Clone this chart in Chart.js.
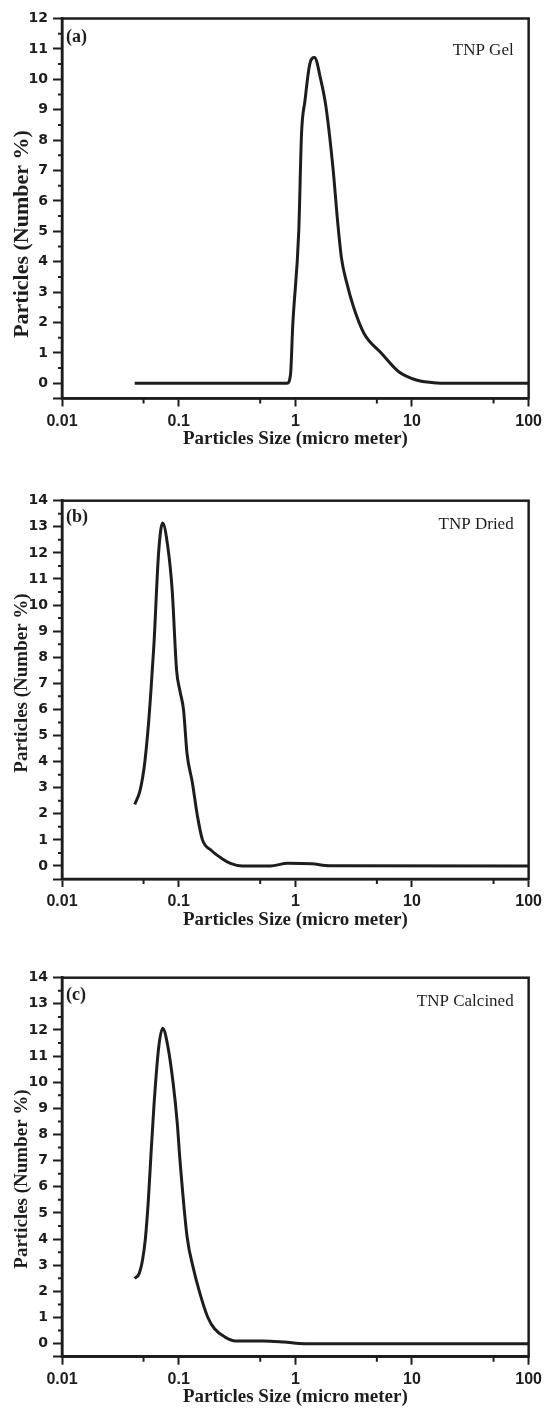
<!DOCTYPE html>
<html>
<head>
<meta charset="utf-8">
<script src="https://cdn.jsdelivr.net/npm/chart.js@4.4.0/dist/chart.umd.min.js"></script>
<style>
body{margin:0;background:#fff;width:547px;height:1408px;position:relative;overflow:hidden}
.panel{position:absolute;left:0;width:547px}
</style>
</head>
<body>
<div class="panel" style="top:0;height:450px"><canvas id="chartA"></canvas></div>
<div class="panel" style="top:470px;height:461px"><canvas id="chartB"></canvas></div>
<div class="panel" style="top:950px;height:458px"><canvas id="chartC"></canvas></div>
<script>
// ------------------------------- DATA (size in micro meter, number %)

const gelSize   = [0.042, 0.85, 0.91, 0.95, 1.07, 1.13, 1.21, 1.33, 1.46, 1.65, 1.83, 2.10, 2.32, 2.49, 2.76, 3.16, 3.88, 5.47, 7.7, 10.9, 15.3, 21.5, 100]
const gelNumber = [0, 0, 0.3, 1.9, 5.0, 8.2, 9.3, 10.5, 10.72, 10.0, 9.1, 7.1, 5.2, 4.1, 3.3, 2.5, 1.64, 0.99, 0.38, 0.11, 0.02, 0, 0]

const driedSize   = [0.042, 0.0467, 0.051, 0.0555, 0.0574, 0.0614, 0.0673, 0.0729, 0.0809, 0.0879, 0.096, 0.1027, 0.110, 0.118, 0.131, 0.145, 0.160, 0.190, 0.234, 0.278, 0.353, 0.61, 0.86, 1.39, 1.96, 100]
const driedNumber = [2.36, 2.9, 3.9, 5.6, 6.5, 8.5, 12.0, 13.15, 12.2, 10.6, 7.5, 6.7, 6.0, 4.3, 3.2, 1.9, 1.0, 0.6, 0.29, 0.1, 0, 0, 0.1, 0.08, 0.01, 0]

const calcSize   = [0.042, 0.0458, 0.049, 0.0518, 0.055, 0.0575, 0.0614, 0.0673, 0.0729, 0.0809, 0.0897, 0.0973, 0.1027, 0.118, 0.135, 0.155, 0.178, 0.203, 0.250, 0.307, 0.53, 0.80, 1.2, 100]
const calcNumber = [2.49, 2.68, 3.2, 4.0, 5.5, 7.0, 9.1, 11.3, 12.07, 11.36, 9.96, 8.43, 7.0, 4.1, 2.8, 1.8, 1.0, 0.57, 0.25, 0.10, 0.10, 0.06, 0, 0]

const xTicks = [0.01, 0.1, 1, 10, 100]
const xTickLabels = ['0.01', '0.1', '1', '10', '100']
const xMinor = [0.05, 0.5, 5, 50]

const yTicksGel = [0, 1, 2, 3, 4, 5, 6, 7, 8, 9, 10, 11, 12]
const yMinorGel = [0.5, 1.5, 2.5, 3.5, 4.5, 5.5, 6.5, 7.5, 8.5, 9.5, 10.5, 11.5]
const yTicksOther = [0, 1, 2, 3, 4, 5, 6, 7, 8, 9, 10, 11, 12, 13, 14]
const yMinorOther = [0.5, 1.5, 2.5, 3.5, 4.5, 5.5, 6.5, 7.5, 8.5, 9.5, 10.5, 11.5, 12.5, 13.5]

// ------------------------------- GLOBALS

const ink = '#1f1c1d'
const yTitle = 'Particles (Number %)'
const xTitle = 'Particles Size (micro meter)'

// frame box, small ticks and the text inside the panel
const frame = {
    id: 'frame',
    afterDraw(chart, args, o) {
        const ctx = chart.ctx
        const a = chart.chartArea
        const x = chart.scales.x
        const y = chart.scales.y
        ctx.save()
        ctx.strokeStyle = ink
        ctx.lineWidth = 2.5
        ctx.strokeRect(a.left, a.top, a.right - a.left, a.bottom - a.top)

        ctx.lineWidth = 2
        ctx.beginPath()
        xMinor.forEach(v => {
            let px = x.getPixelForValue(v)
            ctx.moveTo(px, a.bottom)
            ctx.lineTo(px, a.bottom + 5)
        })
        o.yMinor.forEach(v => {
            let py = y.getPixelForValue(v)
            ctx.moveTo(a.left, py)
            ctx.lineTo(a.left - 4, py)
        })
        ctx.stroke()

        ctx.fillStyle = ink
        ctx.textBaseline = 'middle'
        ctx.textAlign = 'left'
        ctx.font = 'bold 18px "Liberation Serif"'
        ctx.fillText(o.tag, a.left + 4, a.top + o.tagDy)
        ctx.textAlign = 'right'
        ctx.font = '17px "Liberation Serif"'
        ctx.fillText(o.name, a.right - 15, a.top + o.nameDy)

        ctx.translate(22, a.top + o.titleDy)
        ctx.rotate(-Math.PI / 2)
        ctx.textAlign = 'center'
        ctx.font = 'bold ' + o.titleSize + 'px "Liberation Serif"'
        ctx.fillText(yTitle, 0, 0)
        ctx.restore()
    }
}

function makeChart(id, sizes, numbers, yMax, yTicks, panel) {
    const pts = sizes.map((s, i) => ({x: s, y: numbers[i]}))
    return new Chart(document.getElementById(id), {
        type: 'line',
        data: {
            datasets: [{
                data: pts,
                borderColor: ink,
                borderWidth: 3,
                pointRadius: 0,
                fill: false,
                cubicInterpolationMode: 'monotone'
            }]
        },
        options: {
            responsive: true,
            maintainAspectRatio: false,
            devicePixelRatio: 1,
            animation: false,
            events: [],
            layout: {padding: {top: panel.padTop, right: 15, left: 0, bottom: 0}},
            plugins: {legend: {display: false}, tooltip: {enabled: false}, frame: panel},
            scales: {
                x: {
                    type: 'logarithmic',
                    min: 0.01,
                    max: 100,
                    afterBuildTicks: s => { s.ticks = xTicks.map(v => ({value: v})) },
                    afterFit: s => { s.height = panel.xHeight },
                    ticks: {
                        autoSkip: false,
                        maxRotation: 0,
                        padding: 5,
                        color: ink,
                        font: {family: 'Liberation Sans', size: 16, weight: 'bold'},
                        callback: v => xTickLabels[xTicks.indexOf(v)]
                    },
                    grid: {drawOnChartArea: false, tickLength: 8, tickWidth: 2, tickColor: ink},
                    border: {color: ink, width: 2.5},
                    title: {
                        display: true,
                        text: xTitle,
                        color: ink,
                        padding: 0,
                        font: {family: 'Liberation Serif', size: 19, weight: 'bold'}
                    }
                },
                y: {
                    min: -0.5,
                    max: yMax,
                    afterBuildTicks: s => { s.ticks = [-0.5].concat(yTicks).map(v => ({value: v})) },
                    afterFit: s => { s.width = 62 },
                    ticks: {
                        autoSkip: false,
                        padding: 5,
                        color: ink,
                        font: {family: 'DejaVu Sans', size: 14, weight: 'bold'},
                        callback: v => v < 0 ? '' : String(v)
                    },
                    grid: {drawOnChartArea: false, tickLength: 9, tickWidth: 2, tickColor: ink},
                    border: {color: ink, width: 2.5}
                }
            }
        },
        plugins: [frame]
    })
}

makeChart('chartA', gelSize, gelNumber, 12, yTicksGel, {
    padTop: 18.5, xHeight: 51.5, yMinor: yMinorGel,
    tag: '(a)', name: 'TNP Gel', tagDy: 18.5, nameDy: 32.5, titleDy: 215.5, titleSize: 22
})
makeChart('chartB', driedSize, driedNumber, 14, yTicksOther, {
    padTop: 30.7, xHeight: 52, yMinor: yMinorOther,
    tag: '(b)', name: 'TNP Dried', tagDy: 16.3, nameDy: 24.3, titleDy: 182.3, titleSize: 19
})
makeChart('chartC', calcSize, calcNumber, 14, yTicksOther, {
    padTop: 27.7, xHeight: 51.3, yMinor: yMinorOther,
    tag: '(c)', name: 'TNP Calcined', tagDy: 17.3, nameDy: 24.3, titleDy: 201.3, titleSize: 19
})
</script>
</body>
</html>
